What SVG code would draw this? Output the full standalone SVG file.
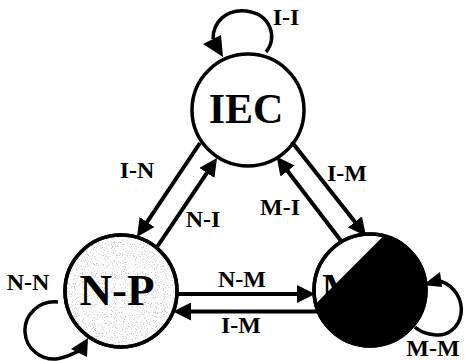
<svg xmlns="http://www.w3.org/2000/svg" width="465" height="361" viewBox="0 0 465 361">
  <style>
    .ring { fill: #fff; stroke: #000; stroke-width: 3.5; }
    .edge { fill: none; stroke: #000; stroke-width: 4; }
    .loop { fill: none; stroke: #000; stroke-width: 3.5; }
    .head { fill: #000; }
    .title { font-family: "Liberation Serif", "Times New Roman", serif; font-weight: bold; fill: #000; text-anchor: middle; }
    .lbl { font-family: "Liberation Serif", "Times New Roman", serif; font-weight: bold; font-size: 24px; fill: #000; text-anchor: middle; }
  </style>
  <defs>
    <marker id="arrow" markerUnits="userSpaceOnUse" viewBox="0 0 18 18" markerWidth="18" markerHeight="18" refX="13" refY="9" orient="auto">
      <path d="M0,0 L18,9 L0,18 z" fill="#000"/>
    </marker>
    <!-- stippled grey grain for the N-P state -->
    <filter id="grain" x="0" y="0" width="100%" height="100%">
      <feTurbulence type="fractalNoise" baseFrequency="0.9" numOctaves="2" seed="7" result="noise"/>
      <feColorMatrix in="noise" type="matrix" values="0 0 0 0 0.55  0 0 0 0 0.55  0 0 0 0 0.55  4.5 0 0 0 -2.45" result="dots"/>
      <feComposite in="dots" in2="SourceAlpha" operator="in"/>
    </filter>
    <clipPath id="mClip">
      <circle cx="370" cy="290" r="56"/>
    </clipPath>
  </defs>

  <!-- state: IEC -->
  <g id="node-iec">
    <circle class="ring" cx="248" cy="110" r="56"/>
    <text class="title" x="246" y="123" font-size="42">IEC</text>
  </g>

  <!-- state: N-P (stippled) -->
  <g id="node-np">
    <circle class="ring" cx="121" cy="291" r="56"/>
    <circle cx="121" cy="291" r="55" fill="#000" filter="url(#grain)"/>
    <circle cx="121" cy="291" r="56" fill="none" stroke="#000" stroke-width="3.5"/>
    <text class="title" x="117" y="305" font-size="45">N-P</text>
  </g>

  <!-- state: M (mostly filled black) -->
  <g id="node-m">
    <circle class="ring" cx="370" cy="290" r="56"/>
    <text class="title" x="340" y="300" font-size="38">M</text>
    <polygon points="290,329.5 400,219.5 440,219.5 440,360 290,360" fill="#000" clip-path="url(#mClip)"/>
    <circle cx="370" cy="290" r="56" fill="none" stroke="#000" stroke-width="3.5"/>
  </g>

  <g id="connectors">
    <!-- IEC <-> N-P -->
    <line class="edge" x1="200" y1="143" x2="139.8" y2="232.8" marker-end="url(#arrow)"/>
    <line class="edge" x1="157" y1="247" x2="214.2" y2="162.1" marker-end="url(#arrow)"/>
    <!-- IEC <-> M -->
    <line class="edge" x1="291.7" y1="141.7" x2="362.9" y2="232.1" marker-end="url(#arrow)"/>
    <line class="edge" x1="341.7" y1="241.7" x2="279.7" y2="160.7" marker-end="url(#arrow)"/>
    <!-- N-P <-> M -->
    <line class="edge" x1="177" y1="294" x2="310" y2="294" marker-end="url(#arrow)"/>
    <line class="edge" x1="317" y1="311.5" x2="178" y2="311.5" marker-end="url(#arrow)"/>

    <!-- self loops -->
    <path class="loop" d="M266,52 C278,38 271,14 246,11 C226,9 213,22 213,39"/>
    <polygon class="head" points="223,57 203,44 221,35"/>

    <path class="loop" d="M58,302 C38,300 24,316 25,332 C26,350 42,360 56,359 C66,358 72,354 79,351"/>
    <polygon class="head" points="88,338 71,349 87,357"/>

    <path class="loop" d="M440,281 C455,286 463,300 461,314 C459,328 447,336 436,335 C426,334 419,331 415,327"/>
    <polygon class="head" points="423,285 440,272 442,287"/>

    <!-- transition labels -->
    <text class="lbl" x="286" y="25">I-I</text>
    <text class="lbl" x="137" y="178">I-N</text>
    <text class="lbl" x="203" y="227">N-I</text>
    <text class="lbl" x="347" y="181">I-M</text>
    <text class="lbl" x="280" y="215">M-I</text>
    <text class="lbl" x="242" y="287">N-M</text>
    <text class="lbl" x="241" y="333">I-M</text>
    <text class="lbl" x="28" y="290">N-N</text>
    <text class="lbl" x="433" y="356">M-M</text>
  </g>
</svg>
